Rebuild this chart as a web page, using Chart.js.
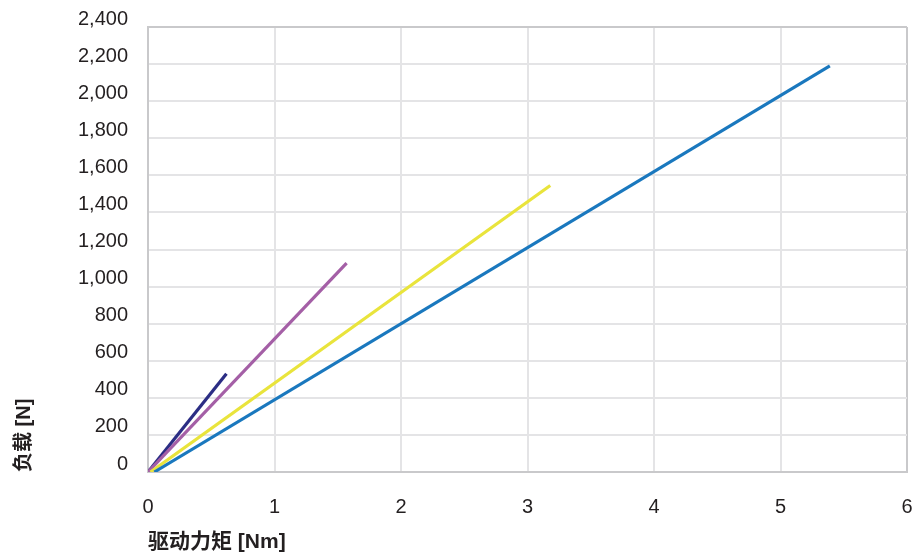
<!DOCTYPE html>
<html>
<head>
<meta charset="utf-8">
<script src="https://cdn.jsdelivr.net/npm/chart.js@4"></script>
<style>
  html, body { margin: 0; padding: 0; background: #fff; }
  #wrap { width: 915px; height: 558px; }
</style>
</head>
<body>
<div id="wrap"><canvas id="grafico"></canvas></div>
<script>
// torque [Nm] / load [N] per line (start, end)
const torqueNavy = [0, 0.62];
const loadNavy = [0, 530];
const torquePurple = [0, 1.57];
const loadPurple = [0, 1127];
const torqueYellow = [0.02, 3.18];
const loadYellow = [0, 1545];
const torqueBlue = [0.05, 5.39];
const loadBlue = [0, 2190];

const xTicks = [0, 1, 2, 3, 4, 5, 6];
const yTicks = [0, 200, 400, 600, 800, 1000, 1200, 1400, 1600, 1800, 2000, 2200, 2400];

const xTitle = '驱动力矩 [Nm]';
const yTitle = '负载 [N]';

const FONT = '"Liberation Sans", Arial, "Noto Sans CJK SC", sans-serif';

function punti(xs, ys) {
    return xs.map((x, i) => ({ x: x, y: ys[i] }));
}

function serie(label, xs, ys, colore) {
    return {
        label: label,
        data: punti(xs, ys),
        borderColor: colore,
        backgroundColor: colore,
        borderWidth: 3.2,
        pointRadius: 0,
        showLine: true,
        tension: 0
    };
}

// niente padding automatico dalle etichette
function azzeraPadding(s) {
    s.paddingLeft = 0;
    s.paddingRight = 0;
    s.paddingTop = 0;
    s.paddingBottom = 0;
}

const canvas = document.getElementById('grafico');
new Chart(canvas, {
    type: 'scatter',
    data: {
        datasets: [
            serie('blue', torqueBlue, loadBlue, '#1a78be'),
            serie('yellow', torqueYellow, loadYellow, '#e9e43c'),
            serie('purple', torquePurple, loadPurple, '#a45fa6'),
            serie('navy', torqueNavy, loadNavy, '#2b2d84')
        ]
    },
    options: {
        responsive: true,
        maintainAspectRatio: false,
        animation: false,
        layout: { padding: { top: 27, right: 8, left: 0, bottom: 0 } },
        plugins: {
            legend: { display: false },
            tooltip: { enabled: false }
        },
        scales: {
            x: {
                type: 'linear',
                min: 0,
                max: 6,
                afterBuildTicks: s => { s.ticks = xTicks.map(v => ({ value: v })); },
                afterFit: s => { s.height = 86; azzeraPadding(s); },
                grid: {
                    drawTicks: false,
                    lineWidth: 2,
                    color: c => c.tick && c.tick.value === 6 ? '#c9c9cb' : '#e4e4e6'
                },
                border: { display: true, color: '#c9c9cb', width: 2 },
                ticks: {
                    padding: 23,
                    color: '#231f20',
                    font: { family: FONT, size: 20 }
                },
                title: {
                    display: true,
                    text: xTitle,
                    align: 'start',
                    color: '#231f20',
                    font: { family: FONT, size: 21, weight: 'bold' },
                    padding: { top: 0, bottom: 3 }
                }
            },
            y: {
                type: 'linear',
                min: 0,
                max: 2400,
                afterBuildTicks: s => { s.ticks = yTicks.map(v => ({ value: v })); },
                afterFit: s => { s.width = 148; azzeraPadding(s); },
                grid: {
                    drawTicks: false,
                    lineWidth: 2,
                    color: c => c.tick && c.tick.value === 2400 ? '#c9c9cb' : '#e4e4e6'
                },
                border: { display: true, color: '#c9c9cb', width: 2 },
                ticks: {
                    padding: 20,
                    labelOffset: -8,
                    color: '#231f20',
                    font: { family: FONT, size: 20 },
                    callback: v => v.toLocaleString('en-US')
                },
                title: {
                    display: true,
                    text: yTitle,
                    align: 'start',
                    color: '#231f20',
                    font: { family: FONT, size: 20, weight: 'bold' },
                    padding: { top: 12, bottom: 0 }
                }
            }
        }
    }
});
</script>
</body>
</html>
